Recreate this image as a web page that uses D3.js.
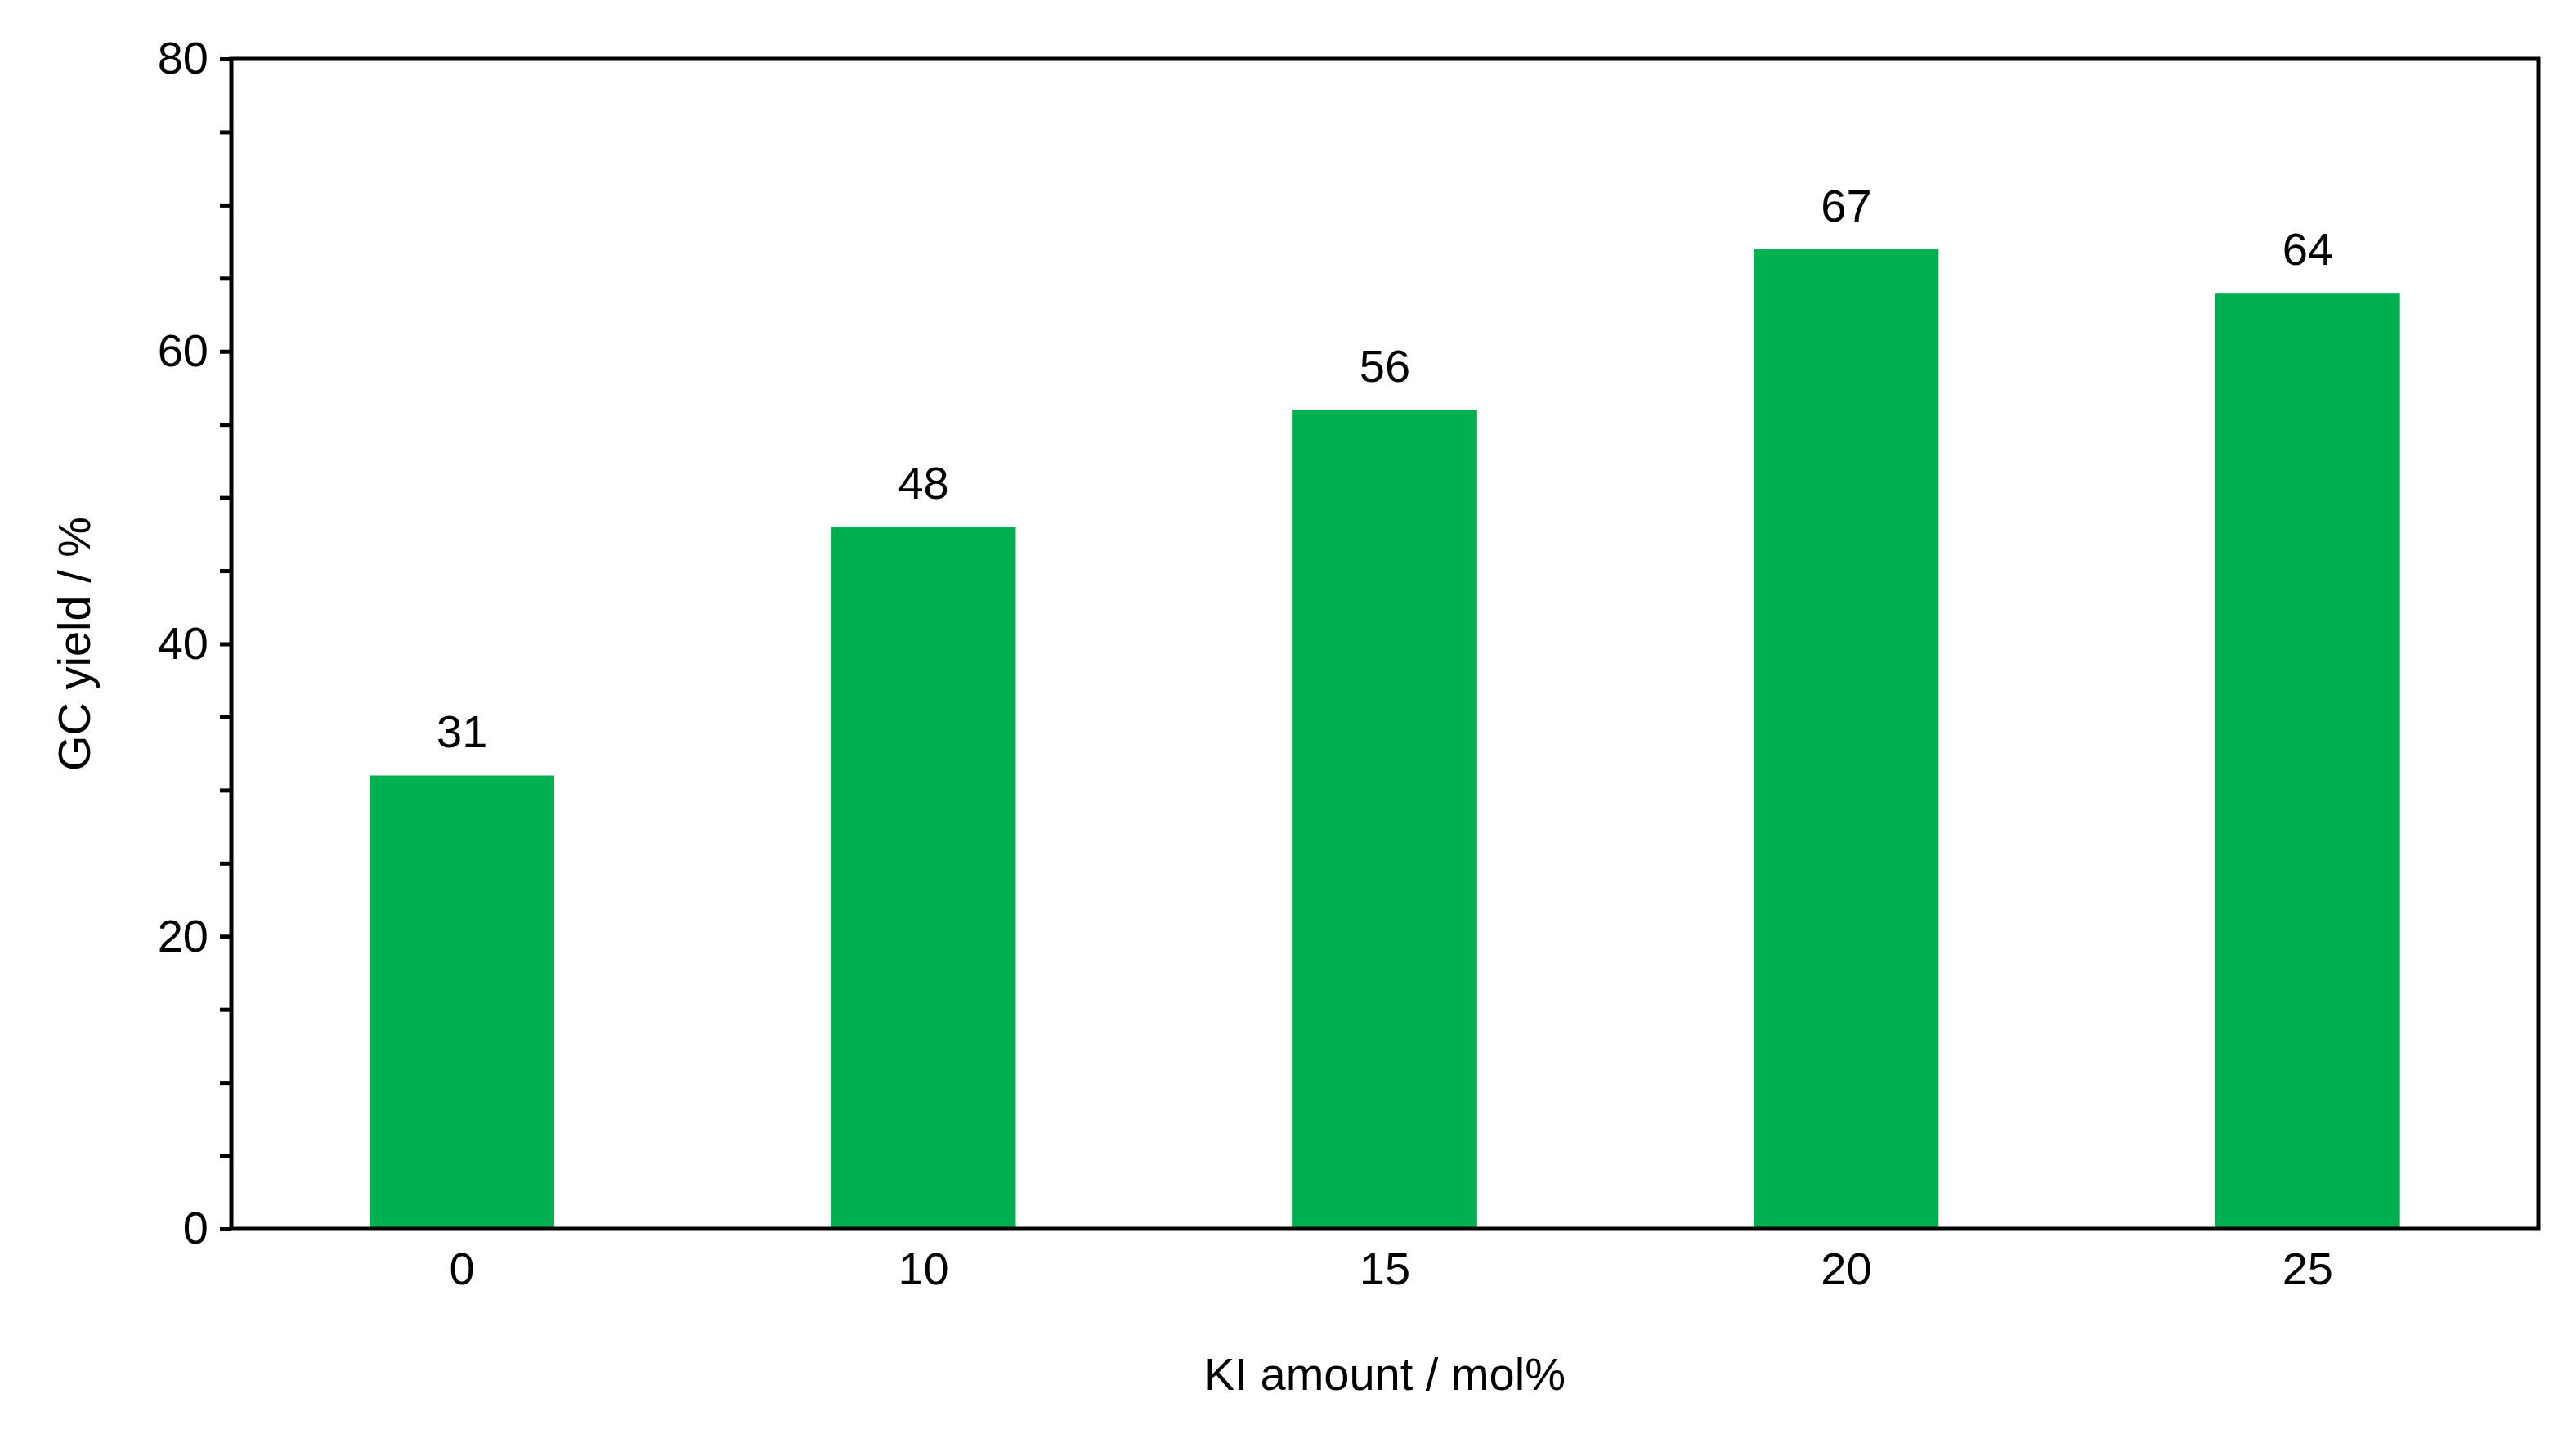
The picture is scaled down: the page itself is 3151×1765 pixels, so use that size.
<!DOCTYPE html>
<html><head><meta charset="utf-8">
<script src="https://cdn.jsdelivr.net/npm/d3@7"></script>
<style>body{margin:0;background:#fff}text{font-family:"Liberation Sans",Arial,sans-serif}</style>
</head><body>
<script>
var categories = ["0", "10", "15", "20", "25"];
var yields = [31, 48, 56, 67, 64];
var yTicks = [0, 20, 40, 60, 80];

var width = 3151, height = 1765;
var plotLeft = 283, plotRight = 3105, plotTop = 72, plotBottom = 1503;

var svg = d3.select("body").append("svg")
	.attr("width", width)
	.attr("height", height);

var x = d3.scaleBand().domain(categories).range([plotLeft, plotRight]).paddingInner(0.6).paddingOuter(0.3);
var y = d3.scaleLinear().domain([0, 80]).range([plotBottom, plotTop]);

// bars
svg.selectAll("rect.bar").data(yields).enter().append("rect")
	.attr("class", "bar")
	.attr("x", function(d, i){ return x(categories[i]); })
	.attr("y", function(d){ return y(d); })
	.attr("width", x.bandwidth())
	.attr("height", function(d){ return plotBottom - y(d); })
	.attr("fill", "#00b050");

// value labels
svg.selectAll("text.val").data(yields).enter().append("text")
	.attr("class", "val")
	.attr("x", function(d, i){ return x(categories[i]) + x.bandwidth()/2; })
	.attr("y", function(d){ return y(d) - 34; })
	.attr("text-anchor", "middle")
	.attr("font-size", 56)
	.text(function(d){ return d; });

// y axis with minor ticks every 5
var yAxis = d3.axisLeft(y).tickValues(d3.range(0, 81, 5)).tickSize(14).tickPadding(14)
	.tickFormat(function(d){ return yTicks.indexOf(d) >= 0 ? d : ""; });
var gy = svg.append("g").attr("transform", "translate(" + plotLeft + ",0)").call(yAxis);
gy.select(".domain").remove();
gy.selectAll("line").attr("stroke", "#000").attr("stroke-width", 5);
gy.selectAll("text").attr("font-size", 56).attr("fill", "#000");

// x axis labels
var xAxis = d3.axisBottom(x).tickSize(0).tickPadding(28);
var gx = svg.append("g").attr("transform", "translate(0," + plotBottom + ")").call(xAxis);
gx.select(".domain").remove();
gx.selectAll("text").attr("font-size", 56).attr("fill", "#000");

// frame
svg.append("rect")
	.attr("x", plotLeft).attr("y", plotTop)
	.attr("width", plotRight - plotLeft).attr("height", plotBottom - plotTop)
	.attr("fill", "none").attr("stroke", "#000").attr("stroke-width", 5);

svg.append("text")
	.attr("x", (plotLeft + plotRight)/2).attr("y", 1700)
	.attr("text-anchor", "middle").attr("font-size", 56)
	.text("KI amount / mol%");

svg.append("text")
	.attr("transform", "translate(110," + ((plotTop + plotBottom)/2) + ") rotate(-90)")
	.attr("text-anchor", "middle").attr("font-size", 56)
	.text("GC yield / %");
</script>
</body></html>
